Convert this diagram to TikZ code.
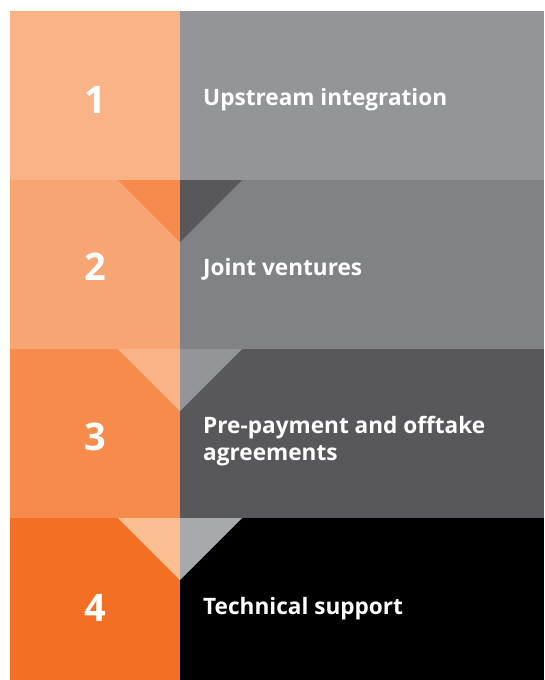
\documentclass[tikz,border=0pt]{standalone}
\usepackage{fontspec}
\setmainfont{Open Sans}
\definecolor{oA}{HTML}{FAB386}
\definecolor{oB}{HTML}{F7A673}
\definecolor{oC}{HTML}{F68B4B}
\definecolor{oD}{HTML}{F36F24}
\definecolor{oT}{HTML}{FBBF93}
\definecolor{gA}{HTML}{939598}
\definecolor{gB}{HTML}{808285}
\definecolor{gC}{HTML}{58585B}
\definecolor{gD}{HTML}{000000}
\definecolor{gT}{HTML}{A7A9AC}
\tikzset{
  num/.style={text=white, font=\fontsize{38}{40}\selectfont\bfseries, anchor=base, inner sep=0pt},
  lbl/.style={text=white, font=\fontsize{22.6}{27}\selectfont\bfseries, anchor=base west, inner sep=0pt, align=left},
}
\begin{document}
\begin{tikzpicture}[x=1pt,y=-1pt]
\useasboundingbox (0,0) rectangle (544,680);
% rows
\fill[oA] (10,11) rectangle (180,180);
\fill[gA] (180,11) rectangle (544,180);
\fill[oB] (10,180) rectangle (180,349);
\fill[gB] (180,180) rectangle (544,349);
\fill[oC] (10,349) rectangle (180,518);
\fill[gC] (180,349) rectangle (544,518);
\fill[oD] (10,518) rectangle (180,680);
\fill[gD] (180,518) rectangle (544,680);
% triangles
\fill[oC] (118,180) -- (180,180) -- (180,242) -- cycle;
\fill[gC] (180,180) -- (242,180) -- (180,242) -- cycle;
\fill[oA] (118,349) -- (180,349) -- (180,411) -- cycle;
\fill[gA] (180,349) -- (242,349) -- (180,411) -- cycle;
\fill[oT] (118,518) -- (180,518) -- (180,580) -- cycle;
\fill[gT] (180,518) -- (242,518) -- (180,580) -- cycle;
% numbers
\node[num] (n1) at (95,113) {1};
\node[num] (n2) at (95,280) {2};
\node[num] (n3) at (95,450) {3};
\node[num] (n4) at (95,621) {4};
% labels
\node[lbl] (l1) at (203,105) {Upstream integration};
\node[lbl] (l2) at (203,275) {Joint ventures};
\node[lbl] (l3) at (203,460) {Pre-payment and offtake\\agreements};
\node[lbl] (l4) at (203,614) {Technical support};
\end{tikzpicture}
\end{document}
